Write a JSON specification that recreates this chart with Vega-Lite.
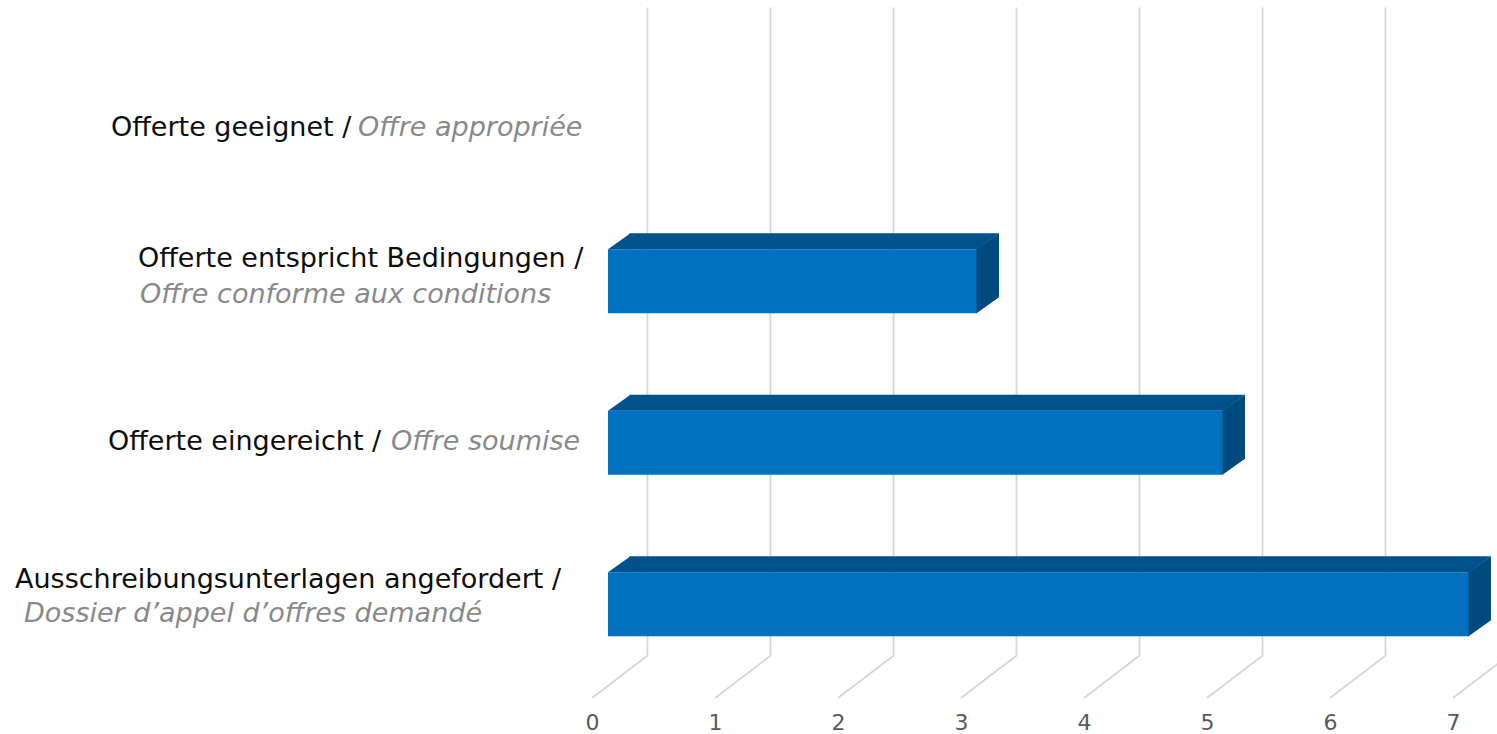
{
  "$schema": "https://vega.github.io/schema/vega-lite/v6.json",
  "autosize": {"type": "none"},
  "width": 861,
  "height": 649,
  "padding": {"left": 592, "top": 7, "right": 44, "bottom": 78},
  "background": "white",
  "config": {"view": {"stroke": null}, "font": "DejaVu Sans"},
  "datasets": {
    "stages": [
      {"stage": "Offerte geeignet", "de": "Offerte geeignet /", "fr": "Offre appropriée", "count": 0},
      {"stage": "Offerte entspricht Bedingungen", "de": "Offerte entspricht Bedingungen /", "fr": "Offre conforme aux conditions", "count": 3},
      {"stage": "Offerte eingereicht", "de": "Offerte eingereicht /", "fr": "Offre soumise", "count": 5},
      {"stage": "Ausschreibungsunterlagen angefordert", "de": "Ausschreibungsunterlagen angefordert /", "fr": "Dossier d’appel d’offres demandé", "count": 7}
    ],
    "ticks": [{"t": 0}, {"t": 1}, {"t": 2}, {"t": 3}, {"t": 4}, {"t": 5}, {"t": 6}, {"t": 7}]
  },
  "data": {"name": "stages"},
  "encoding": {
    "y": {
      "field": "stage",
      "type": "nominal",
      "sort": null,
      "scale": {
        "domain": ["Offerte geeignet", "Offerte entspricht Bedingungen", "Offerte eingereicht", "Ausschreibungsunterlagen angefordert"],
        "paddingInner": 0.36,
        "paddingOuter": 0.1893,
        "align": 1
      },
      "axis": null
    }
  },
  "layer": [
    {
      "data": {"name": "ticks"},
      "mark": {"type": "rule", "color": "#d6d6d6", "strokeWidth": 1.8, "xOffset": 55, "x2Offset": 0},
      "encoding": {
        "x": {"field": "t", "type": "quantitative", "scale": {"domain": [0, 7], "nice": false}},
        "x2": {"field": "t"},
        "y": {"value": "height"},
        "y2": {"value": {"expr": "height + 42"}}
      }
    },
    {
      "transform": [{"filter": "datum.count > 0"}],
      "mark": {"type": "bar", "color": "#0070c0", "size": 64, "xOffset": 16, "x2Offset": 16},
      "encoding": {
        "x": {
          "field": "count",
          "type": "quantitative",
          "scale": {"domain": [0, 7], "nice": false},
          "axis": {
            "values": [0, 1, 2, 3, 4, 5, 6, 7],
            "format": "d",
            "grid": true,
            "gridColor": "#d6d6d6",
            "gridWidth": 1.8,
            "tickOffset": 55,
            "labelOffset": -55,
            "ticks": false,
            "domain": false,
            "labelPadding": 66,
            "labelBaseline": "middle",
            "labelFontSize": 22,
            "labelFont": "DejaVu Sans",
            "labelColor": "#595959",
            "labelOverlap": false,
            "labelFlush": false,
            "labelBound": false,
            "title": null
          }
        },
        "x2": {"datum": 0}
      }
    },
    {
      "transform": [{"filter": "datum.count > 0"}],
      "mark": {"type": "bar", "color": "#00528c", "size": 16, "yOffset": -40, "xOffset": 16, "x2Offset": 37.5},
      "encoding": {
        "x": {"field": "count", "type": "quantitative"},
        "x2": {"datum": 0}
      }
    },
    {
      "transform": [{"filter": "datum.count > 0"}],
      "mark": {"type": "point", "shape": "M16,-32L38.5,-32L38.5,-48Z", "size": 4, "filled": true, "opacity": 1, "strokeWidth": 0, "color": "#00528c"},
      "encoding": {
        "x": {"datum": 0, "type": "quantitative"}
      }
    },
    {
      "transform": [{"filter": "datum.count > 0"}],
      "mark": {"type": "point", "shape": "M15.5,-48L38,-48L15.5,-31.5Z", "size": 4, "filled": true, "opacity": 1, "strokeWidth": 0, "color": "#00528c"},
      "encoding": {
        "x": {"field": "count", "type": "quantitative"}
      }
    },
    {
      "transform": [{"filter": "datum.count > 0"}],
      "mark": {"type": "point", "shape": "M15.5,-32L38,-48L38,16L15.5,32Z", "size": 4, "filled": true, "opacity": 1, "strokeWidth": 0, "color": "#004a80"},
      "encoding": {
        "x": {"field": "count", "type": "quantitative"}
      }
    },
    {
      "transform": [{"filter": "datum.stage == 'Offerte geeignet'"}],
      "mark": {"type": "text", "align": "left", "baseline": "middle", "fontSize": 27, "font": "DejaVu Sans", "color": "#0d0d0d", "dx": -481, "dy": 8},
      "encoding": {"x": {"datum": 0, "type": "quantitative"}, "text": {"field": "de"}}
    },
    {
      "transform": [{"filter": "datum.stage == 'Offerte geeignet'"}],
      "mark": {"type": "text", "align": "left", "baseline": "middle", "fontSize": 27, "font": "DejaVu Sans", "fontStyle": "italic", "color": "#898989", "dx": -234, "dy": 8},
      "encoding": {"x": {"datum": 0, "type": "quantitative"}, "text": {"field": "fr"}}
    },
    {
      "transform": [{"filter": "datum.stage == 'Offerte entspricht Bedingungen'"}],
      "mark": {"type": "text", "align": "left", "baseline": "middle", "fontSize": 27, "font": "DejaVu Sans", "color": "#0d0d0d", "dx": -454, "dy": -22},
      "encoding": {"x": {"datum": 0, "type": "quantitative"}, "text": {"field": "de"}}
    },
    {
      "transform": [{"filter": "datum.stage == 'Offerte entspricht Bedingungen'"}],
      "mark": {"type": "text", "align": "left", "baseline": "middle", "fontSize": 27, "font": "DejaVu Sans", "fontStyle": "italic", "color": "#898989", "dx": -452, "dy": 14},
      "encoding": {"x": {"datum": 0, "type": "quantitative"}, "text": {"field": "fr"}}
    },
    {
      "transform": [{"filter": "datum.stage == 'Offerte eingereicht'"}],
      "mark": {"type": "text", "align": "left", "baseline": "middle", "fontSize": 27, "font": "DejaVu Sans", "color": "#0d0d0d", "dx": -484, "dy": -1},
      "encoding": {"x": {"datum": 0, "type": "quantitative"}, "text": {"field": "de"}}
    },
    {
      "transform": [{"filter": "datum.stage == 'Offerte eingereicht'"}],
      "mark": {"type": "text", "align": "left", "baseline": "middle", "fontSize": 27, "font": "DejaVu Sans", "fontStyle": "italic", "color": "#898989", "dx": -201, "dy": -1},
      "encoding": {"x": {"datum": 0, "type": "quantitative"}, "text": {"field": "fr"}}
    },
    {
      "transform": [{"filter": "datum.stage == 'Ausschreibungsunterlagen angefordert'"}],
      "mark": {"type": "text", "align": "left", "baseline": "middle", "fontSize": 27, "font": "DejaVu Sans", "color": "#0d0d0d", "dx": -577, "dy": -24},
      "encoding": {"x": {"datum": 0, "type": "quantitative"}, "text": {"field": "de"}}
    },
    {
      "transform": [{"filter": "datum.stage == 'Ausschreibungsunterlagen angefordert'"}],
      "mark": {"type": "text", "align": "left", "baseline": "middle", "fontSize": 27, "font": "DejaVu Sans", "fontStyle": "italic", "color": "#898989", "dx": -568, "dy": 10},
      "encoding": {"x": {"datum": 0, "type": "quantitative"}, "text": {"field": "fr"}}
    }
  ]
}
